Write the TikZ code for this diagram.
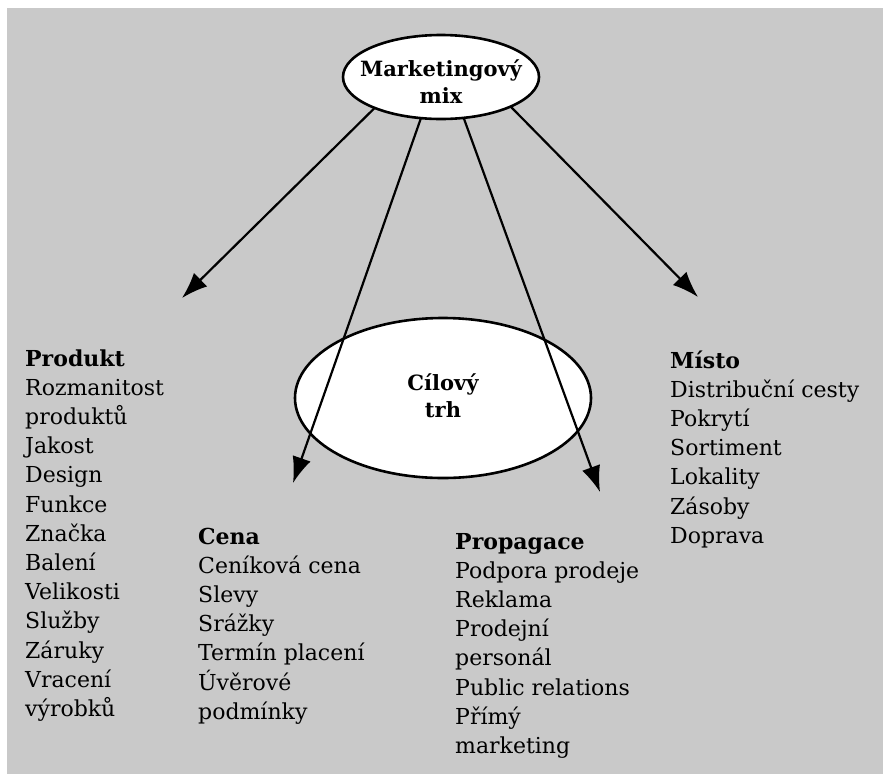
\documentclass[tikz,border=0pt]{standalone}
\usepackage{fontspec}
\setmainfont{DejaVu Serif}
\usetikzlibrary{shapes.geometric,arrows.meta}
\definecolor{bg}{RGB}{201,201,201}
\begin{document}
\begin{tikzpicture}[x=1pt,y=-1pt,
  bubble/.style={ellipse, draw=black, line width=2.6pt, fill=white, inner sep=0pt, outer sep=0pt},
  title/.style={font=\fontsize{21}{27}\selectfont\bfseries, align=center, inner sep=0pt},
  list/.style={font=\fontsize{22}{29.2}\selectfont, align=left, anchor=base west, inner sep=0pt},
  arrow/.style={line width=2.2pt, -{Latex[length=26pt,width=19pt]}}
]
\useasboundingbox (0,0) rectangle (883,774);
\fill[white] (0,0) rectangle (883,774);
\fill[bg] (7,8) rectangle (883,774);

% Cílový trh
\node[bubble, minimum width=296pt, minimum height=160pt] (ct) at (443,398) {};
\node[title, anchor=base] (cttext) at (443,417) {Cílový\\trh};

% Marketingový mix
\node[bubble, minimum width=196pt, minimum height=84pt] (mm) at (441,77) {};
\node[title, anchor=base] (mmtext) at (441,103) {Marketingový\\mix};

% arrow tips
\coordinate (t1) at (182,298);
\coordinate (t2) at (293,483);
\coordinate (t3) at (600,492);
\coordinate (t4) at (698,297);

\draw[arrow] (mm.205) -- (t1);
\draw[arrow] (mm.244) -- (t2);
\draw[arrow] (mm.299) -- (t3);
\draw[arrow] (mm.337) -- (t4);

% lists (anchor = baseline of last line)
\node[list] (produkt) at (25,716.4) {\textbf{Produkt}\\Rozmanitost\\produktů\\Jakost\\Design\\Funkce\\Značka\\Balení\\Velikosti\\Služby\\Záruky\\Vracení\\výrobků};
\node[list] (cena) at (198,719.2) {\textbf{Cena}\\Ceníková cena\\Slevy\\Srážky\\Termín placení\\Úvěrové\\podmínky};
\node[list] (propagace) at (455,753.4) {\textbf{Propagace}\\Podpora prodeje\\Reklama\\Prodejní\\personál\\Public relations\\Přímý\\marketing};
\node[list] (misto) at (670,543.2) {\textbf{Místo}\\Distribuční cesty\\Pokrytí\\Sortiment\\Lokality\\Zásoby\\Doprava};
\end{tikzpicture}
\end{document}
